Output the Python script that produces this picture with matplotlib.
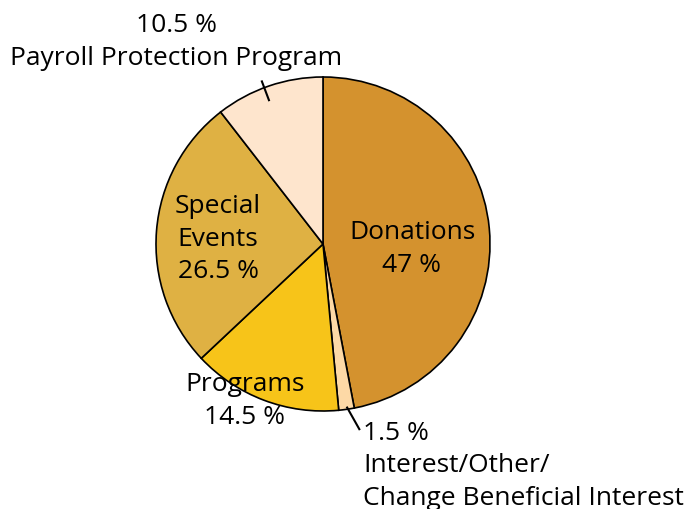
import numpy as np
import matplotlib.pyplot as plt

plt.rcParams['font.family'] = ['Open Sans', 'DejaVu Sans']

# Revenue sources
labels = ["Donations", "Interest/Other/\nChange Beneficial Interest", "Programs",
          "Special\nEvents", "Payroll Protection Program"]
values = [47, 1.5, 14.5, 26.5, 10.5]
colors = ["#D4922E", "#FDD9A6", "#F7C419", "#DFB143", "#FEE5CD"]

fig = plt.figure(figsize=(6.9, 5.1), dpi=100)
ax = fig.add_axes([0, 0, 1, 1])

cx, cy, r = 323, 510 - 245, 167
wedges, _ = ax.pie(values, colors=colors, startangle=90, counterclock=False,
                   center=(cx, cy), radius=r, frame=True,
                   wedgeprops=dict(edgecolor="black", linewidth=1.2))
ax.set_xlim(0, 690)
ax.set_ylim(0, 510)
ax.set_aspect("equal")
ax.axis("off")

fs = 19
ls = 1.42
# inside labels
ax.text(412, 510 - 249, "Donations\n47 %", ha="center", va="center", fontsize=fs, linespacing=ls)
ax.text(218, 510 - 239, "Special\nEvents\n26.5 %", ha="center", va="center", fontsize=fs, linespacing=ls)
ax.text(245, 510 - 401, "Programs\n14.5 %", ha="center", va="center", fontsize=fs, linespacing=ls)

# outside labels with short tick lines (start angle offset, end angle offset)
for w, r0, r1, d0, d1 in [(wedges[4], 0.92, 1.04, 1.7, 1.7), (wedges[1], 0.99, 1.13, 0.3, 3.0)]:
    mid = (w.theta1 + w.theta2) / 2
    a0 = np.deg2rad(mid + d0)
    a1 = np.deg2rad(mid + d1)
    ax.plot([cx + r0 * r * np.cos(a0), cx + r1 * r * np.cos(a1)],
            [cy + r0 * r * np.sin(a0), cy + r1 * r * np.sin(a1)],
            color="black", linewidth=1.5)

ax.text(176, 510 - 42, "10.5 %\nPayroll Protection Program", ha="center", va="center",
        fontsize=fs, linespacing=ls)
ax.text(363, 510 - 466, "1.5 %\nInterest/Other/\nChange Beneficial Interest", ha="left", va="center",
        fontsize=fs, linespacing=ls)

fig.savefig("out.png", dpi=100)
